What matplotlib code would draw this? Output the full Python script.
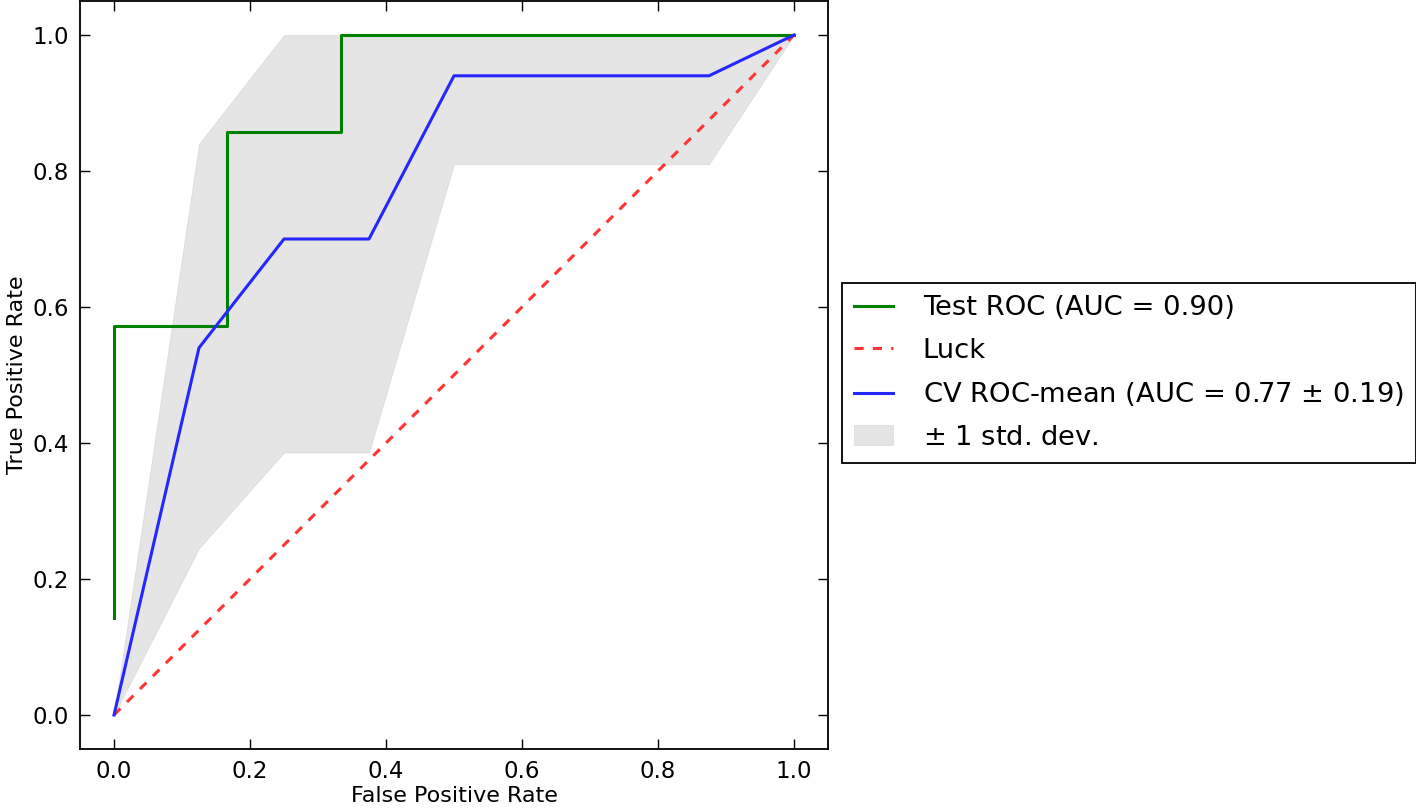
import matplotlib
matplotlib.use("Agg")
import matplotlib.pyplot as plt
import numpy as np

# Test ROC
test_fpr = [0.0, 0.0, 1/6, 1/6, 1/3, 1/3, 1.0]
test_tpr = [1/7, 4/7, 4/7, 6/7, 6/7, 1.0, 1.0]

# Luck diagonal
luck_x = [0.0, 1.0]
luck_y = [0.0, 1.0]

# CV mean ROC
mean_fpr = [0.0, 0.125, 0.25, 0.375, 0.5, 0.625, 0.75, 0.875, 1.0]
mean_tpr = [0.0, 0.54, 0.70, 0.70, 0.94, 0.94, 0.94, 0.94, 1.0]
tpr_upper = [0.0, 0.84, 1.0, 1.0, 1.0, 1.0, 1.0, 1.0, 1.0]
tpr_lower = [0.0, 0.245, 0.386, 0.386, 0.81, 0.81, 0.81, 0.81, 1.0]

labels = ["Test ROC (AUC = 0.90)", "Luck",
          "CV ROC-mean (AUC = 0.77 $\\pm$ 0.19)", "$\\pm$ 1 std. dev."]

fig = plt.figure(figsize=(14.16, 8.09), dpi=100)
ax = fig.add_axes([80/1416, 1-749/809, 748/1416, 748/809])

ax.plot(test_fpr, test_tpr, color=(0, 0.5, 0), lw=2.2, label=labels[0])
ax.plot(luck_x, luck_y, color=(1, 0.2, 0.2), lw=2.2, dashes=[3, 3], label=labels[1])
ax.plot(mean_fpr, mean_tpr, color=(0.15, 0.15, 1.0), lw=2.2, label=labels[2])
ax.fill_between(mean_fpr, tpr_lower, tpr_upper, color='grey', alpha=0.2, lw=0.5,
                label=labels[3])

ax.set_xlim(-0.05, 1.05)
ax.set_ylim(-0.05, 1.05)
ax.set_xticks([0.0, 0.2, 0.4, 0.6, 0.8, 1.0])
ax.set_yticks([0.0, 0.2, 0.4, 0.6, 0.8, 1.0])
ax.tick_params(direction='in', top=True, right=True, length=7, width=1,
               labelsize=16.5, pad=8)
for s in ax.spines.values():
    s.set_linewidth(1.3)
ax.set_xlabel("False Positive Rate", fontsize=16, labelpad=2)
ax.set_ylabel("True Positive Rate", fontsize=16, labelpad=4)

leg = fig.legend(loc='center left', bbox_to_anchor=(842/1416, 1-373/809),
                 fontsize=19.7, handlelength=1.4, labelspacing=0.6,
                 fancybox=False, edgecolor='black', framealpha=1,
                 borderaxespad=0, handletextpad=1.1, borderpad=0.45)
leg.get_frame().set_linewidth(1.3)

fig.savefig("out.png", dpi=100)
